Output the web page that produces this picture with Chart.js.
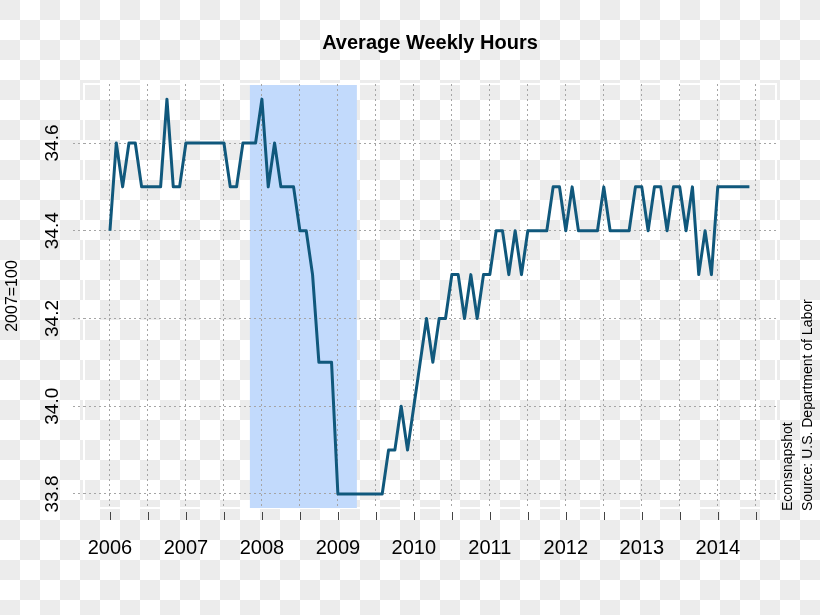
<!DOCTYPE html>
<html>
<head>
<meta charset="utf-8">
<script src="https://cdn.jsdelivr.net/npm/chart.js@4.4.0/dist/chart.umd.min.js"></script>
<style>
  html, body { margin: 0; padding: 0; }
  body {
    width: 820px; height: 615px;
    background: repeating-conic-gradient(#ececec 0 25%, #ffffff 0 50%) 20px 0 / 40px 40px;
  }
  #wrap { position: relative; width: 820px; height: 615px; }
</style>
</head>
<body>
<div id="wrap"><canvas id="chart" width="820" height="615"></canvas></div>
<script>
// Average weekly hours, monthly from Jan 2006 to Jun 2014.
const startYear = 2006;
const hours = [
  // 2006
  34.4, 34.6, 34.5, 34.6, 34.6, 34.5, 34.5, 34.5, 34.5, 34.7, 34.5, 34.5,
  // 2007
  34.6, 34.6, 34.6, 34.6, 34.6, 34.6, 34.6, 34.5, 34.5, 34.6, 34.6, 34.6,
  // 2008
  34.7, 34.5, 34.6, 34.5, 34.5, 34.5, 34.4, 34.4, 34.3, 34.1, 34.1, 34.1,
  // 2009
  33.8, 33.8, 33.8, 33.8, 33.8, 33.8, 33.8, 33.8, 33.9, 33.9, 34.0, 33.9,
  // 2010
  34.0, 34.1, 34.2, 34.1, 34.2, 34.2, 34.3, 34.3, 34.2, 34.3, 34.2, 34.3,
  // 2011
  34.3, 34.4, 34.4, 34.3, 34.4, 34.3, 34.4, 34.4, 34.4, 34.4, 34.5, 34.5,
  // 2012
  34.4, 34.5, 34.4, 34.4, 34.4, 34.4, 34.5, 34.4, 34.4, 34.4, 34.4, 34.5,
  // 2013
  34.5, 34.4, 34.5, 34.5, 34.4, 34.5, 34.5, 34.4, 34.5, 34.3, 34.4, 34.3,
  // 2014
  34.5, 34.5, 34.5, 34.5, 34.5, 34.5
];
const yTicks = [33.8, 34.0, 34.2, 34.4, 34.6];
// Recession band, in months since Jan 2006.
const recession = [22.1, 39.0];
const chartTitle = 'Average Weekly Hours';
const sourceLines = ['Econsnapshot', 'Source: U.S. Department of Labor'];

const FONT = '"Liberation Sans", Arial, Helvetica, sans-serif';
const LINE_COLOR = '#10587c';
const GRID_COLOR = '#a5a5a5';

// Month index -> {x, y}
const points = hours.map((v, i) => ({ x: i, y: v }));
// Half-year ticks, years get a label.
const xTicks = [];
for (let m = 0; m <= hours.length; m += 6) xTicks.push(m);

const backdrop = {
  id: 'backdrop',
  beforeDraw(chart) {
    const { ctx, chartArea: a, scales } = chart;
    ctx.save();
    // white frame around the plot region
    ctx.strokeStyle = '#ffffff';
    ctx.lineWidth = 2;
    ctx.strokeRect(a.left, a.top, a.right - a.left, a.bottom - a.top);
    // recession shading
    const x0 = scales.x.getPixelForValue(recession[0]);
    const x1 = scales.x.getPixelForValue(recession[1]);
    ctx.fillStyle = '#c2dafc';
    ctx.fillRect(x0, a.top + 1, x1 - x0, a.bottom - a.top - 1);
    ctx.restore();
  },
  afterDraw(chart) {
    const { ctx, chartArea: a, scales } = chart;
    ctx.save();
    // title, centred over the plot region
    ctx.fillStyle = '#000';
    ctx.font = 'bold 20px ' + FONT;
    ctx.textAlign = 'center';
    ctx.textBaseline = 'middle';
    ctx.fillText(chartTitle, (a.left + a.right) / 2, 43);
    // x tick marks, detached below the plot
    ctx.strokeStyle = '#444';
    ctx.lineWidth = 1;
    xTicks.forEach((m) => {
      const px = Math.round(scales.x.getPixelForValue(m)) + 0.5;
      ctx.beginPath();
      ctx.moveTo(px, a.bottom + 4);
      ctx.lineTo(px, a.bottom + 12);
      ctx.stroke();
    });
    // rotated y tick labels
    ctx.font = '19px ' + FONT;
    yTicks.forEach((v) => {
      const py = scales.y.getPixelForValue(v);
      ctx.save();
      ctx.translate(53, py);
      ctx.rotate(-Math.PI / 2);
      ctx.fillText(v.toFixed(1), 0, 0);
      ctx.restore();
    });
    // source notes on the right
    ctx.font = '14px ' + FONT;
    ctx.textAlign = 'left';
    sourceLines.forEach((txt, i) => {
      ctx.save();
      ctx.translate(788 + i * 20, a.bottom + 3);
      ctx.rotate(-Math.PI / 2);
      ctx.fillText(txt, 0, 0);
      ctx.restore();
    });
    ctx.restore();
  }
};

new Chart(document.getElementById('chart'), {
  type: 'line',
  data: {
    datasets: [{
      data: points,
      borderColor: LINE_COLOR,
      borderWidth: 3,
      pointRadius: 0,
      tension: 0,
      fill: false,
      borderJoinStyle: 'round'
    }]
  },
  options: {
    responsive: false,
    animation: false,
    layout: { padding: { left: 0, right: 44, top: 84, bottom: 0 } },
    plugins: {
      legend: { display: false },
      tooltip: { enabled: false },
      title: { display: false }
    },
    scales: {
      x: {
        type: 'linear',
        min: -4.1,
        max: 105.2,
        afterFit: (scale) => { scale.height = 107; },
        afterBuildTicks: (scale) => { scale.ticks = xTicks.map((v) => ({ value: v })); },
        grid: { color: GRID_COLOR, drawTicks: false },
        border: { display: false, dash: [2, 3] },
        ticks: {
          autoSkip: false,
          maxRotation: 0,
          padding: 28,
          color: '#000',
          font: { family: FONT, size: 20 },
          callback: (v) => (v % 12 === 0 ? String(startYear + v / 12) : '')
        }
      },
      y: {
        min: 33.768,
        max: 34.7345,
        afterFit: (scale) => { scale.width = 84; },
        afterBuildTicks: (scale) => { scale.ticks = yTicks.map((v) => ({ value: v })); },
        grid: { color: GRID_COLOR, drawTicks: true, tickLength: 11, tickBorderDash: [2, 3] },
        border: { display: false, dash: [2, 3] },
        ticks: { display: false },
        title: {
          display: true,
          text: '2007=100',
          color: '#000',
          font: { family: FONT, size: 16 },
          padding: { top: 3, bottom: 0 }
        }
      }
    }
  },
  plugins: [backdrop]
});
</script>
</body>
</html>
